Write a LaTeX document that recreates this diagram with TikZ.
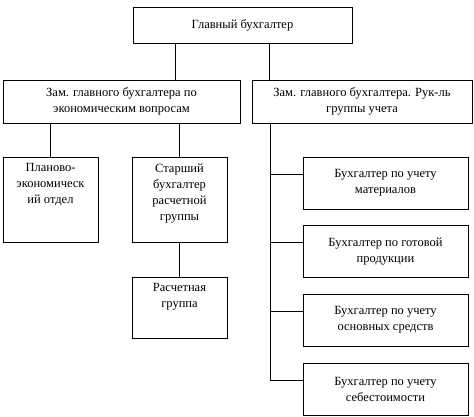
\documentclass[tikz,border=0pt]{standalone}
\usepackage{fontspec}
\setmainfont{Liberation Serif}
\usepackage{tikz}

\newcommand{\toptext}[3]{\parbox[t][#2][t]{#1}{\centering\vspace*{6pt}#3}}

\begin{document}
\begin{tikzpicture}[x=1pt, y=-1pt, line width=0.9pt,
  font=\fontsize{12.5}{16}\selectfont,
  box/.style={draw, rectangle, align=center, inner sep=2pt}]
      \useasboundingbox (0,0) rectangle (474,417);
      \node (chief) [box, minimum width=219pt, minimum height=36pt] at (242.5,25) {Главный бухгалтер};
      \node (zamE) [box, minimum width=237pt, minimum height=43pt] at (121.5,101.5) {Зам. главного бухгалтера по\\экономическим вопросам};
      \node (zamU) [box, minimum width=220pt, minimum height=43pt] at (362,101.5) {Зам. главного бухгалтера. Рук-ль\\группы учета};
      \node (plan) [box, anchor=north, inner sep=0pt, minimum width=95pt] at (50.5,157) {\toptext{88pt}{85pt}{Планово-\\экономическ\\ий отдел}};
      \node (senior) [box, anchor=north, inner sep=0pt, minimum width=95pt] at (179.5,157) {\toptext{88pt}{85pt}{Старший\\бухгалтер\\расчетной\\группы}};
      \node (pay) [box, anchor=north, inner sep=0pt, minimum width=95pt] at (179.5,277) {\toptext{88pt}{61pt}{Расчетная\\группа}};
      \node (mat) [box, minimum width=165pt, minimum height=52pt] at (385.5,183) {Бухгалтер по учету\\материалов};
      \node (prod) [box, minimum width=165pt, minimum height=52pt] at (385.5,251.5) {Бухгалтер по готовой\\продукции};
      \node (fix) [box, minimum width=165pt, minimum height=52pt] at (385.5,320) {Бухгалтер по учету\\основных средств};
      \node (cost) [box, minimum width=165pt, minimum height=52pt] at (385.5,389) {Бухгалтер по учету\\себестоимости};
      \draw [-] ([xshift=-67.5pt]chief.south) to ([xshift=-67.5pt]chief.south |- zamE.north);
      \draw [-] ([xshift=26.5pt]chief.south) to ([xshift=26.5pt]chief.south |- zamU.north);
      \draw [-] (plan.north |- zamE.south) to (plan.north);
      \draw [-] (senior.north |- zamE.south) to (senior.north);
      \draw [-] (senior) to (pay);
      \foreach \n in {mat,prod,fix,cost}
        \draw [-] ([xshift=-92pt]zamU.south) |- ([yshift=9pt]\n.west);
\end{tikzpicture}
\end{document}
